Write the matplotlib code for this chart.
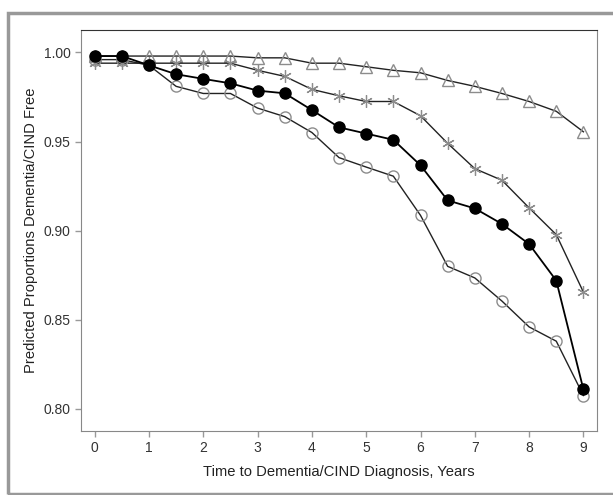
import matplotlib
matplotlib.use("Agg")
import matplotlib.pyplot as plt
from matplotlib.patches import Rectangle

plt.rcParams['font.family'] = ['Liberation Sans', 'DejaVu Sans']

years = [0, 0.5, 1, 1.5, 2, 2.5, 3, 3.5, 4, 4.5, 5, 5.5, 6, 6.5, 7, 7.5, 8, 8.5, 9]
triangle = [0.998, 0.998, 0.998, 0.998, 0.998, 0.998, 0.997, 0.997, 0.994, 0.994,
            0.992, 0.990, 0.9886, 0.9843, 0.981, 0.977, 0.9725, 0.967, 0.9555]
star = [0.994, 0.994, 0.994, 0.994, 0.994, 0.994, 0.990, 0.9866, 0.9793, 0.9757,
        0.9725, 0.9725, 0.9645, 0.949, 0.9348, 0.9283, 0.9128, 0.8978, 0.8655]
filled = [0.998, 0.998, 0.9928, 0.9878, 0.9852, 0.9827, 0.9786, 0.9771, 0.9677, 0.958,
          0.9545, 0.951, 0.9367, 0.917, 0.9125, 0.9038, 0.8925, 0.872, 0.8109]
opencirc = [0.996, 0.996, 0.9928, 0.981, 0.977, 0.977, 0.9688, 0.964, 0.9551, 0.941,
            0.9357, 0.9306, 0.9086, 0.880, 0.8735, 0.8605, 0.846, 0.838, 0.8075]
xticks = [0, 1, 2, 3, 4, 5, 6, 7, 8, 9]
yticks = [0.80, 0.85, 0.90, 0.95, 1.00]

fig = plt.figure(figsize=(6.13, 4.95), dpi=100)
ax = fig.add_axes([0.1321, 0.1293, 0.8418, 0.8111])

gray = '#8c8c8c'
ax.plot(years, triangle, color='#222222', lw=1.0, marker='^', ms=8, mfc='none',
        mec=gray, mew=1.0)
ax.plot(years, star, color='#222222', lw=1.0, marker=(6, 2, 0), ms=9,
        mec=gray, mew=0.9)
ax.plot(years, opencirc, color='#222222', lw=1.0, marker='o', ms=8, mfc='none',
        mec=gray, mew=1.0)
ax.plot(years, filled, color='black', lw=1.3, marker='o', ms=8, mfc='black',
        mec='black')

ax.set_xlim(-0.252, 9.25)
ax.set_ylim(0.7876, 1.0129)
ax.set_xticks(xticks)
ax.set_xticklabels([str(t) for t in xticks])
ax.set_yticks(yticks)
ax.set_yticklabels([f"{t:.2f}" for t in yticks])
ax.tick_params(axis='both', colors='#999999', labelcolor='#333333', labelsize=10,
               length=4, width=1)
for s in ['left', 'bottom', 'right']:
    ax.spines[s].set_color('#888888')
ax.spines['top'].set_color('#333333')
ax.set_xlabel('Time to Dementia/CIND Diagnosis, Years', fontsize=10.6, color='#222222', labelpad=7)
ax.set_ylabel('Predicted Proportions Dementia/CIND Free', fontsize=10.6, color='#222222', labelpad=4)

W, H = 613, 495
fig.patches.append(Rectangle((8 / W, 1 / H), 1.2, (495 - 13 - 1) / H, transform=fig.transFigure,
                             fill=False, edgecolor='#999999', lw=2.5, clip_on=False))

fig.savefig('out.png', dpi=100)
